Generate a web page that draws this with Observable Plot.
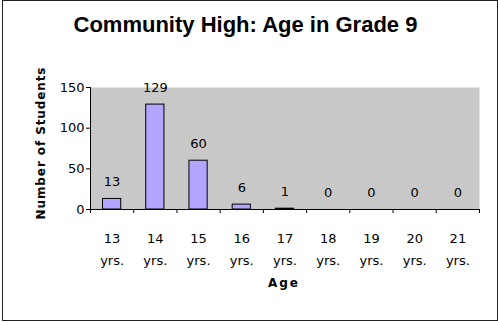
<!DOCTYPE html>
<html>
<head>
<meta charset="utf-8">
<script src="https://cdn.jsdelivr.net/npm/d3@7"></script>
<script src="https://cdn.jsdelivr.net/npm/@observablehq/plot@0.6"></script>
<style>
  html, body { margin: 0; padding: 0; background: #fff; }
  #chart { position: relative; width: 498px; height: 322px; overflow: hidden; }
  #border { position: absolute; left: 2px; top: 0px; width: 494px; height: 319px; border: 1px solid #222; }
  #title { position: absolute; left: 0; top: 13.5px; width: 491px; text-align: center;
           font: bold 22px "Liberation Sans", Arial, sans-serif; line-height: 1; color: #000; }
  #ylabel { position: absolute; left: 41px; top: 143px; transform: translate(-50%, -50%) rotate(-90deg);
            white-space: nowrap; font: 900 12px "DejaVu Sans", sans-serif; letter-spacing: 0.9px; line-height: 1; color: #000; }
  #xlabel { position: absolute; left: 0; width: 568px; top: 277px; text-align: center;
            font: bold 12px "DejaVu Sans", sans-serif; letter-spacing: 2px; line-height: 1; color: #000; }
  #plot { position: absolute; left: 0; top: 0; }
</style>
</head>
<body>
<div id="chart">
  <div id="plot"></div>
  <div id="border"></div>
  <div id="title">Community High: Age in Grade 9</div>
  <div id="ylabel">Number of Students</div>
  <div id="xlabel">Age</div>
</div>
<script>
const ages = [13, 14, 15, 16, 17, 18, 19, 20, 21];
const students = [13, 129, 60, 6, 1, 0, 0, 0, 0];
const ageLabels = ["13\nyrs.", "14\nyrs.", "15\nyrs.", "16\nyrs.", "17\nyrs.", "18\nyrs.", "19\nyrs.", "20\nyrs.", "21\nyrs."];
const yTicks = [0, 50, 100, 150];
const xBoundaries = [13, 14, 15, 16, 17, 18, 19, 20, 21, 22];

const data = ages.map((a, i) => ({age: a, next: a + 1, mid: a + 0.5, count: students[i], label: ageLabels[i]}));

const chart = Plot.plot({
  width: 498,
  height: 322,
  marginLeft: 90,
  marginRight: 19,
  marginTop: 87,
  marginBottom: 113,
  style: {fontFamily: "DejaVu Sans", fontSize: "13px", color: "#000", background: "transparent"},
  x: {type: "linear", domain: [13, 22]},
  y: {domain: [0, 150]},
  marks: [
    Plot.frame({fill: "#c8c8c8", stroke: null}),
    Plot.rectY(data, {x1: "age", x2: "next", y: "count", insetLeft: 12.5, insetRight: 12.5,
      fill: "#b3a5ff", stroke: "#000", strokeWidth: 1}),
    Plot.text(data, {x: "mid", y: "count", text: d => String(d.count), dy: -17,
      fill: "#000", fontSize: 13, fontFamily: "DejaVu Sans"}),
    Plot.text(data, {x: "mid", frameAnchor: "bottom", text: "label", lineAnchor: "top",
      lineHeight: 1.62, dy: 19, fill: "#000", fontSize: 13, fontFamily: "DejaVu Sans"}),
    Plot.axisX({ticks: xBoundaries, tickFormat: () => "", tickSize: 4, label: null, stroke: "#000"}),
    Plot.axisY({ticks: yTicks, tickSize: 4, tickPadding: 2, label: null, fontSize: 13, stroke: "#000", fill: "#000"}),
    Plot.ruleY([0], {stroke: "#000"}),
    Plot.ruleX([13], {stroke: "#000"})
  ]
});
document.getElementById("plot").appendChild(chart);
</script>
</body>
</html>
